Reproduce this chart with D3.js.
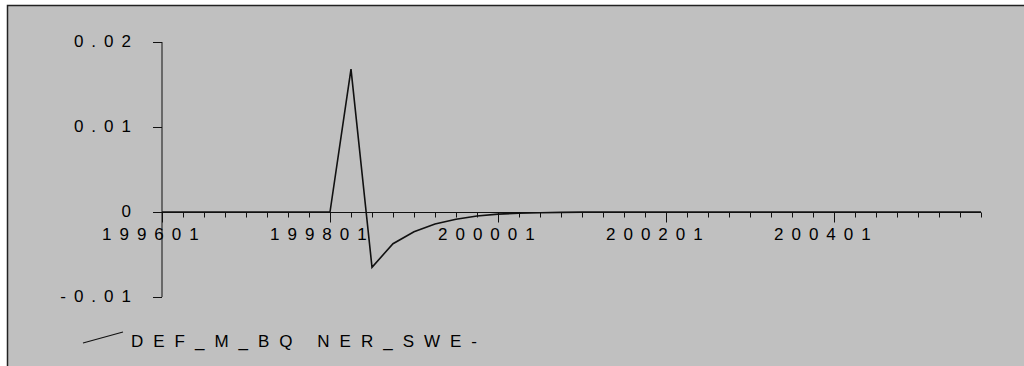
<!DOCTYPE html>
<html>
<head>
<meta charset="utf-8">
<script src="https://cdn.jsdelivr.net/npm/d3@7"></script>
<style>
  html, body { margin: 0; padding: 0; background: #ffffff; }
  svg { display: block; }
  text { font-family: "Liberation Sans", Arial, sans-serif; font-size: 17px; fill: #000; letter-spacing: 8px; }
</style>
</head>
<body>
<script>
// quarterly observations, 1996Q1 .. 2005Q4
const values = [
    0, 0, 0, 0, 0, 0, 0, 0,
    0, 0.0168, -0.0065, -0.00373, -0.00232, -0.0014, -0.00085, -0.00047,
    -0.00025, -0.00014, -0.00008, -0.00004, -0.00002, 0, 0, 0,
    0, 0, 0, 0, 0, 0, 0, 0,
    0, 0, 0, 0, 0, 0, 0, 0
];
const xTickLabels = ["199601", "199801", "200001", "200201", "200401"];
const yTicks = [-0.01, 0, 0.01, 0.02];
const yTickLabels = ["-0.01", "0", "0.01", "0.02"];
const seriesName = "DEF_M_BQ NER_SWE-";

const width = 1024, height = 366;
const lineColor = "#111";

const svg = d3.select("body").append("svg")
    .attr("width", width)
    .attr("height", height);

// grey panel with the frame on top and left only
svg.append("rect")
    .attr("x", 7).attr("y", 5)
    .attr("width", width - 7).attr("height", height - 5)
    .attr("fill", "#c0c0c0");
svg.append("path")
    .attr("d", d3.line()([[7.5, height], [7.5, 5.5], [width, 5.5]]))
    .attr("fill", "none")
    .attr("stroke", "#222")
    .attr("stroke-width", 1.5);

const x = d3.scaleLinear().domain([0, values.length - 1]).range([162, 981]);
const y = d3.scaleLinear().domain([-0.01, 0.02]).range([297, 42]);

// y axis
const yAxis = svg.append("g");
yAxis.append("line")
    .attr("x1", x(0)).attr("x2", x(0))
    .attr("y1", y(0.02)).attr("y2", y(-0.01))
    .attr("stroke", lineColor);
yAxis.selectAll(".ytick")
    .data(yTicks)
    .enter()
    .append("line")
    .attr("x1", x(0) - 9).attr("x2", x(0))
    .attr("y1", (d) => Math.round(y(d)) + 0.5)
    .attr("y2", (d) => Math.round(y(d)) + 0.5)
    .attr("stroke", lineColor);
yAxis.selectAll(".ylabel")
    .data(yTicks)
    .enter()
    .append("text")
    .attr("x", 139)
    .attr("y", (d) => y(d) + 4.5)
    .attr("text-anchor", "end")
    .text((d, i) => yTickLabels[i]);

// x axis at zero
const xAxis = svg.append("g");
const y0 = Math.round(y(0)) + 0.5;
xAxis.append("line")
    .attr("x1", x(0)).attr("x2", x(values.length - 1))
    .attr("y1", y0).attr("y2", y0)
    .attr("stroke", lineColor);
xAxis.selectAll(".xtick")
    .data(d3.range(values.length))
    .enter()
    .append("line")
    .attr("x1", (d) => Math.round(x(d)) + 0.5)
    .attr("x2", (d) => Math.round(x(d)) + 0.5)
    .attr("y1", y0)
    .attr("y2", (d) => y0 + (d % 8 === 0 ? 10 : 5))
    .attr("stroke", lineColor);
xAxis.selectAll(".xlabel")
    .data(xTickLabels)
    .enter()
    .append("text")
    .attr("x", (d, i) => x(i * 8) - 60)
    .attr("y", 240)
    .text((d) => d);

// series
svg.append("path")
    .datum(values)
    .attr("d", d3.line().x((d, i) => x(i)).y((d) => y(d)))
    .attr("fill", "none")
    .attr("stroke", lineColor)
    .attr("stroke-width", 1.6)
    .attr("stroke-linejoin", "miter");

// legend
svg.append("line")
    .attr("x1", 83).attr("y1", 343)
    .attr("x2", 123).attr("y2", 332)
    .attr("stroke", lineColor)
    .attr("stroke-width", 1.2);
svg.append("text")
    .attr("x", 131)
    .attr("y", 347)
    .style("letter-spacing", "0px")
    .attr("textLength", 346)
    .attr("lengthAdjust", "spacing")
    .attr("xml:space", "preserve")
    .text(seriesName);
</script>
</body>
</html>
